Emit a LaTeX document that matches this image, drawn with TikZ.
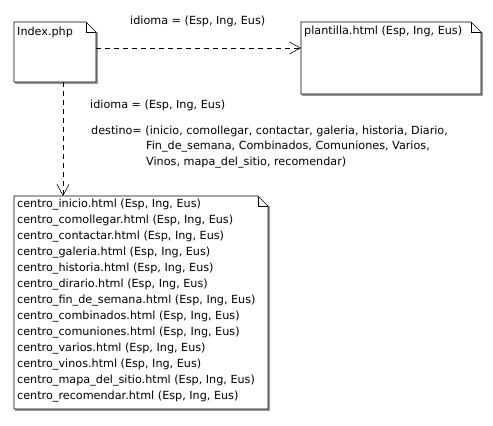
\documentclass[tikz,border=0pt]{standalone}
\usepackage{fontspec}
\setsansfont{DejaVu Sans}
\usepackage{tikz}
\usetikzlibrary{arrows.meta,positioning,calc}

\newcommand{\lblfont}{\sffamily\fontsize{11.2}{16}\selectfont}
% outline of a UML note round an empty node
\newcommand{\notefold}[1]{%
  \draw[line width=2pt,black!40]
    ($(#1.north east)+(1,10)$) -- ($(#1.south east)+(1,1)$) -- ($(#1.south west)+(1,1)$);
  \filldraw[fill=white,line width=0.6pt]
    (#1.north west) -- ($(#1.north east)+(-10,0)$) -- ($(#1.north east)+(0,10)$)
    -- (#1.south east) -- (#1.south west) -- cycle;
  \draw[line width=0.6pt]
    ($(#1.north east)+(-10,0)$) -- ($(#1.north east)+(-10,10)$) -- ($(#1.north east)+(0,10)$);
}

\begin{document}
\begin{tikzpicture}[x=1pt,y=-1pt,
  note/.style={rectangle,inner sep=0pt,outer sep=0pt},
  notetext/.style={inner sep=0pt,anchor=north west,align=left,font=\lblfont},
  lbl/.style={inner sep=0pt,anchor=west,font=\lblfont},
  dep/.style={line width=0.6pt,dash pattern=on 5pt off 4pt,
    -{Straight Barb[length=11pt,width=12pt,line width=0.6pt]}}]
  \useasboundingbox (0,0) rectangle (493,426);

  \node[note,minimum width=82,minimum height=60] (index) at (55,52) {};
  \node[note,minimum width=180,minimum height=72] (plantilla) at (391,58) {};
  \node[note,minimum width=254,minimum height=213] (centros) at (141,302.5) {};
  \notefold{index}
  \notefold{plantilla}
  \notefold{centros}

  \node[notetext] (indextxt) at ($(index.north west)+(3,5)$) {Index.php};
  \node[notetext] (plantillatxt) at ($(plantilla.north west)+(3,4)$) {plantilla.html (Esp, Ing, Eus)};
  \node[notetext] (centrostxt) at ($(centros.north west)+(3,3)$) {%
    centro\_inicio.html (Esp, Ing, Eus)\\
    centro\_comollegar.html (Esp, Ing, Eus)\\
    centro\_contactar.html (Esp, Ing, Eus)\\
    centro\_galeria.html (Esp, Ing, Eus)\\
    centro\_historia.html (Esp, Ing, Eus)\\
    centro\_dirario.html (Esp, Ing, Eus)\\
    centro\_fin\_de\_semana.html (Esp, Ing, Eus)\\
    centro\_combinados.html (Esp, Ing, Eus)\\
    centro\_comuniones.html (Esp, Ing, Eus)\\
    centro\_varios.html (Esp, Ing, Eus)\\
    centro\_vinos.html (Esp, Ing, Eus)\\
    centro\_mapa\_del\_sitio.html (Esp, Ing, Eus)\\
    centro\_recomendar.html (Esp, Ing, Eus)};

  % dependencies
  \draw[dep] ([yshift=4pt]index.east) -- ([yshift=4pt]index.east -| plantilla.west);
  \draw[dep] ([xshift=8pt]index.south) -- ([xshift=8pt]index.south |- centros.north);

  \node[lbl] (idioma1) at (130,21) {idioma = (Esp, Ing, Eus)};
  \node[lbl] (idioma2) at (90,105) {idioma = (Esp, Ing, Eus)};
  \node[lbl] (destino1) at (91,131) {destino= (inicio, comollegar, contactar, galeria, historia, Diario,};
  \node[lbl] (destino2) at (146,147) {Fin\_de\_semana, Combinados, Comuniones, Varios,};
  \node[lbl] (destino3) at (146,163) {Vinos, mapa\_del\_sitio, recomendar)};
\end{tikzpicture}
\end{document}
